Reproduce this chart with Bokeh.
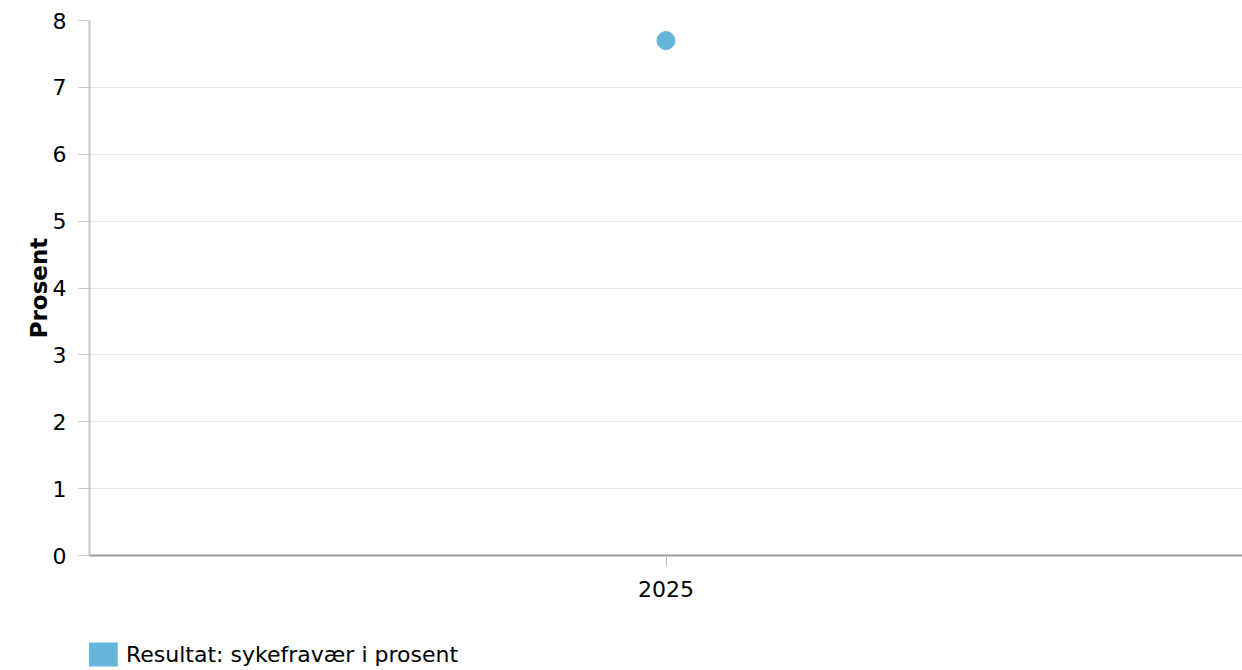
from bokeh.plotting import figure
from bokeh.layouts import column
from bokeh.models import Range1d, FactorRange, Legend, LegendItem, FixedTicker, ColumnDataSource
from bokeh.embed import file_html
from bokeh.resources import INLINE

years = ["2025"]
values = [7.7]
series_name = "Resultat: sykefravær i prosent"
y_ticks = [0, 1, 2, 3, 4, 5, 6, 7, 8]
y_title = "Prosent"

COLOR = "#66b6dc"
FONT = "DejaVu Sans"

p = figure(width=1242, height=615, x_range=FactorRange(factors=years),
           y_range=Range1d(0, 8), output_backend="svg", toolbar_location=None,
           min_border_left=89, min_border_right=0, min_border_top=20,
           min_border_bottom=60)
p.outline_line_color = None
p.background_fill_color = "white"
p.border_fill_color = "white"

src = ColumnDataSource(dict(x=years, y=values))
pts = p.scatter(x="x", y="y", source=src, size=18, fill_color=COLOR, line_color=COLOR)

# axes
p.yaxis.ticker = FixedTicker(ticks=y_ticks)
p.yaxis.axis_label = y_title
p.yaxis.axis_label_text_font = FONT
p.yaxis.axis_label_text_font_style = "bold"
p.yaxis.axis_label_text_font_size = "23px"
p.yaxis.axis_label_text_color = "black"
p.yaxis.major_label_text_font = FONT
p.yaxis.major_label_text_font_size = "22px"
p.yaxis.major_label_text_color = "black"
p.yaxis.axis_line_color = "#c8c8c8"
p.yaxis.axis_line_width = 2
p.yaxis.major_tick_line_color = "#c8c8c8"
p.yaxis.major_tick_out = 11
p.yaxis.major_tick_in = 0
p.yaxis.minor_tick_line_color = None
p.yaxis.major_label_standoff = 12
p.yaxis.axis_label_standoff = -2

p.xaxis.major_label_text_font = FONT
p.xaxis.major_label_text_font_size = "22px"
p.xaxis.major_label_text_color = "black"
p.xaxis.axis_line_color = "#9a9a9a"
p.xaxis.axis_line_width = 2
p.xaxis.major_tick_line_color = "#bbbbbb"
p.xaxis.major_tick_out = 10
p.xaxis.major_tick_in = 0
p.xaxis.major_label_standoff = 15

p.xgrid.grid_line_color = None
p.ygrid.grid_line_color = "#e6e6e6"
p.ygrid.grid_line_width = 1

# legend strip below the chart (shares the series data; zero-size marks)
lg = figure(width=1242, height=55, x_range=FactorRange(factors=years), y_range=Range1d(0, 8),
            output_backend="svg", toolbar_location=None, min_border=0,
            x_axis_type=None, y_axis_type=None)
lg.outline_line_color = None
lg.xgrid.visible = False
lg.ygrid.visible = False
swatch = lg.rect(x="x", y="y", source=src, width=0, height=0,
                 fill_color=COLOR, line_color=None)

legend = Legend(items=[LegendItem(label=series_name, renderers=[swatch])],
                location=(-6, 1), orientation="horizontal",
                glyph_width=38, glyph_height=30, label_standoff=5,
                padding=0, margin=0, spacing=0,
                label_text_font=FONT, label_text_font_size="22px",
                label_text_color="black",
                border_line_color=None, background_fill_alpha=0)
lg.add_layout(legend, "center")

open("out.html", "w").write(file_html(column(p, lg, spacing=0), INLINE))
